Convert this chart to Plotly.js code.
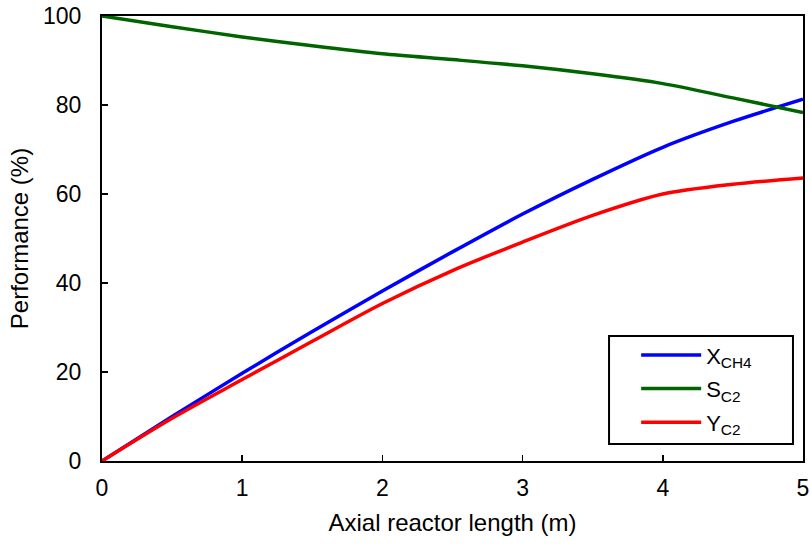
<!DOCTYPE html>
<html>
<head>
<meta charset="utf-8">
<script src="https://cdn.plot.ly/plotly-3.0.1.min.js"></script>
<style>html,body{margin:0;padding:0;background:#fff;}#chart{width:810px;height:551px;}</style>
</head>
<body>
<div id="chart"></div>
<script>
const lengthM = [0, 0.5, 1, 1.5, 2, 2.5, 3, 3.5, 4, 4.5, 5];
const xCH4 = [0, 10.0, 19.7, 29.1, 38.2, 47.0, 55.5, 63.3, 70.5, 76.3, 81.3];
const sC2 = [100, 97.6, 95.3, 93.3, 91.5, 90.2, 88.8, 87.0, 84.8, 81.6, 78.3];
const yC2 = [0, 9.6, 18.3, 26.9, 35.4, 42.8, 49.2, 55.2, 60.0, 62.2, 63.6];
const names = ['X<sub>CH4</sub>', 'S<sub>C2</sub>', 'Y<sub>C2</sub>'];
const colors = ['#0000FF', '#006400', '#FF0000'];
const series = [xCH4, sC2, yC2];

const traces = series.map((s, i) => ({
  x: lengthM, y: s, name: names[i], type: 'scatter', mode: 'lines',
  legendgroup: 'g' + i,
  line: {color: colors[i], width: 3.5, shape: 'spline', smoothing: 0.8}
}));

const FONT = 'Liberation Sans, Arial, sans-serif';

const layout = {
  width: 810, height: 551,
  margin: {l: 102, r: 7, t: 16, b: 90},
  paper_bgcolor: '#fff', plot_bgcolor: '#fff',
  font: {family: FONT, size: 22, color: '#000'},
  showlegend: true,
  legend: {
    x: 0.762, y: 0.285, xanchor: 'left', yanchor: 'top',
    borderwidth: 0, bgcolor: 'rgba(0,0,0,0)',
    font: {family: FONT, size: 22, color: '#000'}, itemwidth: 60, tracegroupgap: 2
  },
  shapes: [{
    type: 'rect', xref: 'paper', yref: 'paper',
    x0: 0.7233, x1: 0.9857, y0: 0.0382, y1: 0.2809,
    line: {color: '#000', width: 2}, fillcolor: 'rgba(0,0,0,0)', layer: 'above'
  }],
  xaxis: {
    range: [0, 5], tickvals: [0, 1, 2, 3, 4, 5],
    tickfont: {family: FONT, size: 23, color: '#000'},
    ticks: 'inside', ticklen: 6, tickwidth: 1.5, tickcolor: '#000',
    ticklabelstandoff: 5,
    showline: true, linecolor: '#000', linewidth: 2, mirror: true,
    showgrid: false, zeroline: false,
    title: {text: 'Axial reactor length (m)', font: {family: FONT, size: 24, color: '#000'}, standoff: 15}
  },
  yaxis: {
    range: [0, 100], tickvals: [0, 20, 40, 60, 80, 100],
    tickfont: {family: FONT, size: 23, color: '#000'},
    ticks: 'inside', ticklen: 6, tickwidth: 1.5, tickcolor: '#000',
    ticklabelstandoff: 14,
    showline: true, linecolor: '#000', linewidth: 2, mirror: true,
    showgrid: false, zeroline: false,
    title: {text: 'Performance (%)', font: {family: FONT, size: 24, color: '#000'}, standoff: 8}
  }
};

Plotly.newPlot('chart', traces, layout, {displayModeBar: false, staticPlot: true});
</script>
</body>
</html>
